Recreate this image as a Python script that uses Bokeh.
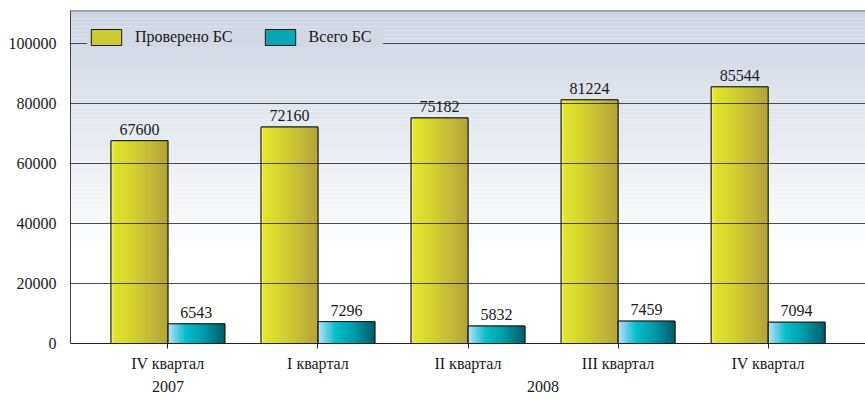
from bokeh.plotting import figure
from bokeh.models import (FactorRange, Range1d, ColumnDataSource, LabelSet, Legend, LegendItem,
                          FixedTicker, NumeralTickFormatter, Span)
from bokeh.transform import dodge
from bokeh.embed import file_html
from bokeh.resources import INLINE

# ---- data ----
years = ["2007", "2008", "2008", "2008", "2008"]
quarters = ["IV квартал", "I квартал", "II квартал", "III квартал", "IV квартал"]
checked_bs = [67600, 72160, 75182, 81224, 85544]
total_bs = [6543, 7296, 5832, 7459, 7094]
series_names = ["Проверено БС", "Всего БС"]
y_ticks = [0, 20000, 40000, 60000, 80000, 100000]
y_max = 111000

FONT = "Liberation Serif"
TXT = "#1a1a1a"

factors = list(zip(years, quarters))
src = ColumnDataSource(dict(x=factors, a=checked_bs, b=total_bs,
                            la=[str(v) for v in checked_bs], lb=[str(v) for v in total_bs]))

xr = FactorRange(factors=factors, factor_padding=0, group_padding=0,
                 range_padding=0.149, range_padding_units="absolute")
p = figure(x_range=xr, y_range=Range1d(0, y_max), width=865, height=398,
           output_backend="svg", toolbar_location=None,
           min_border_left=70, min_border_right=0, min_border_top=10, min_border_bottom=55)
p.background_fill_color = "white"
p.border_fill_color = "white"
p.outline_line_color = None

# background vertical gradient (bluish grey at top -> white), as horizontal strips
top_c = (205, 212, 226)
g_lo = 30000
nb = 60
b0, b1, bc = [], [], []
for i in range(nb):
    b0.append(g_lo + (y_max - g_lo) * i / nb)
    b1.append(g_lo + (y_max - g_lo) * (i + 1) / nb + 200)
    f = (i + 0.5) / nb
    bc.append("#%02x%02x%02x" % tuple(int(round(255 + (tc - 255) * f)) for tc in top_c))
p.hstrip(y0=b0, y1=b1, fill_color=bc, line_color=None, level="underlay")

# top border of the plot area
p.add_layout(Span(location=y_max, dimension="width", line_color="#444444", line_width=1.5))

BW = 0.379

def lerp_stops(stops, f):
    for (f0, c0), (f1, c1) in zip(stops[:-1], stops[1:]):
        if f0 <= f <= f1:
            u = (f - f0) / (f1 - f0) if f1 > f0 else 0
            return "#%02x%02x%02x" % tuple(int(round(a + (b - a) * u)) for a, b in zip(c0, c1))
    return "#%02x%02x%02x" % stops[-1][1]

y_stops = [(0.0, (240, 242, 130)), (0.07, (226, 228, 44)), (0.35, (213, 212, 46)),
           (0.7, (196, 186, 55)), (1.0, (178, 163, 58))]
c_stops = [(0.0, (190, 230, 246)), (0.14, (110, 208, 232)), (0.32, (6, 190, 200)),
           (0.6, (0, 160, 174)), (0.85, (0, 118, 134)), (1.0, (0, 92, 108))]

# base bars (used for legend)
base_a = p.vbar(x=dodge("x", -BW / 2, range=xr), top="a", width=BW, source=src,
                fill_color="#cfc936", line_color="#1a1a1a")
base_b = p.vbar(x=dodge("x", BW / 2, range=xr), top="b", width=BW, source=src,
                fill_color="#0aa6b4", line_color="#1a1a1a")

N = 24
w = BW / N
for i in range(N):
    f = (i + 0.5) / N
    p.vbar(x=dodge("x", -BW + (i + 0.5) * w, range=xr), top="a", width=w * 1.35, source=src,
           fill_color=lerp_stops(y_stops, f), line_color=None)
    p.vbar(x=dodge("x", (i + 0.5) * w, range=xr), top="b", width=w * 1.35, source=src,
           fill_color=lerp_stops(c_stops, f), line_color=None)

# outlines
p.vbar(x=dodge("x", -BW / 2, range=xr), top="a", width=BW, source=src,
       fill_color=None, line_color="#1a1a1a", line_width=1)
p.vbar(x=dodge("x", BW / 2, range=xr), top="b", width=BW, source=src,
       fill_color=None, line_color="#1a1a1a", line_width=1)

# value labels
for col, lab, off in (("a", "la", -BW / 2), ("b", "lb", BW / 2)):
    p.add_layout(LabelSet(x=dodge("x", off, range=xr), y=col, text=lab, source=src,
                          text_align="center", text_baseline="alphabetic", y_offset=6,
                          text_font=FONT, text_font_size="16px", text_color=TXT))

# grid
p.xgrid.grid_line_color = None
p.ygrid.ticker = FixedTicker(ticks=y_ticks)
p.ygrid.grid_line_color = "#222222"
p.ygrid.grid_line_alpha = 0.8
p.ygrid.level = "guide"

# axes
p.yaxis.ticker = FixedTicker(ticks=y_ticks)
p.yaxis.formatter = NumeralTickFormatter(format="0")
p.yaxis.major_tick_line_color = None
p.yaxis.minor_tick_line_color = None
p.yaxis.axis_line_color = "#444444"
p.yaxis.major_label_text_font = FONT
p.yaxis.major_label_text_font_size = "16px"
p.yaxis.major_label_text_color = TXT
p.yaxis.major_label_standoff = 8

p.xaxis.axis_line_color = "#222222"
p.xaxis.major_tick_in = 0
p.xaxis.major_tick_out = 5
p.xaxis.major_tick_line_color = "#222222"
p.xaxis.major_label_text_font = FONT
p.xaxis.major_label_text_font_size = "16px"
p.xaxis.major_label_text_color = TXT
p.xaxis.major_label_standoff = 6
p.xaxis.group_text_font = FONT
p.xaxis.group_text_font_size = "16px"
p.xaxis.group_text_font_style = "normal"
p.xaxis.group_text_color = TXT
p.xaxis.separator_line_color = None

legend = Legend(items=[LegendItem(label=series_names[0], renderers=[base_a]),
                       LegendItem(label=series_names[1], renderers=[base_b])],
                location="top_left", orientation="horizontal",
                background_fill_color="#d2d8e4", background_fill_alpha=1,
                border_line_color=None, label_text_font=FONT, label_text_font_size="16px",
                label_text_color=TXT, glyph_width=38, glyph_height=20, spacing=28,
                label_standoff=10, label_width=74, padding=10, margin=17)
p.add_layout(legend)

open("out.html", "w").write(file_html(p, INLINE))
